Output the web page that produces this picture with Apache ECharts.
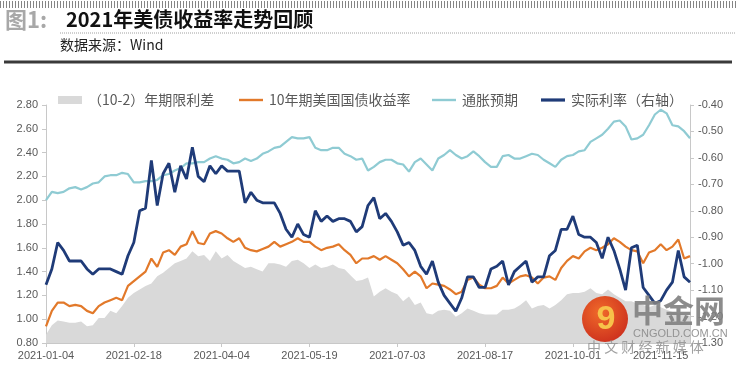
<!DOCTYPE html>
<html>
<head>
<meta charset="utf-8">
<script src="https://cdn.jsdelivr.net/npm/echarts@6/dist/echarts.min.js"></script>
<style>
html, body { margin: 0; padding: 0; background: #fff; }
#wrap { position: relative; width: 738px; height: 367px; }
#main { width: 738px; height: 367px; }
#stripe {
  position: absolute; left: 0; top: 1px; width: 738px; height: 7px; z-index: 5;
  background: repeating-linear-gradient(90deg, #858585 0px, #858585 1.5px, #ffffff 1.5px, #ffffff 3px);
}
</style>
</head>
<body>
<div id="wrap">
  <div id="main"></div>
  <div id="stripe"></div>
</div>
<script>
// dates: one point every 3 calendar days from 2021-01-04
var startDate = '2021-01-04';
var stepDays = 3;
var pointCount = 111;
var tickLabels = ['2021-01-04', '2021-02-18', '2021-04-04', '2021-05-19', '2021-07-03', '2021-08-17', '2021-10-01', '2021-11-15'];

var seriesNames = ['（10-2）年期限利差', '10年期美国国债收益率', '通胀预期', '实际利率（右轴）'];

var spread = [
  0.87, 0.95, 0.99, 0.98, 0.97, 0.97, 0.98, 0.94, 0.95, 1.01, 1.01, 1.07, 1.05, 1.11, 1.18, 1.22, 1.25, 1.28, 1.30, 1.36, 1.39, 1.43, 1.47, 1.49, 1.51, 1.57, 1.53,
  1.54, 1.49, 1.57, 1.51, 1.54, 1.49, 1.46, 1.43, 1.44, 1.42, 1.40, 1.47, 1.47, 1.46, 1.44, 1.49, 1.50, 1.47, 1.43, 1.46, 1.43, 1.44, 1.46, 1.43, 1.42, 1.37, 1.32, 1.33,
  1.35, 1.19, 1.23, 1.26, 1.23, 1.21, 1.15, 1.19, 1.12, 1.14, 1.05, 1.04, 1.07, 1.08, 1.07, 1.02, 1.05, 1.09, 1.07, 1.05, 1.04, 1.04, 1.04, 1.08, 1.08, 1.09, 1.12,
  1.16, 1.09, 1.11, 1.12, 1.09, 1.12, 1.16, 1.21, 1.22, 1.22, 1.23, 1.26, 1.22, 1.21, 1.25, 1.21, 1.18, 1.15, 1.15, 1.13, 1.12, 1.10, 1.12, 1.10, 1.08, 1.06, 1.05, 1.04, 1.03
];
var yield10 = [
  0.94, 1.07, 1.14, 1.14, 1.11, 1.12, 1.11, 1.07, 1.05, 1.11, 1.14, 1.16, 1.18, 1.16, 1.28, 1.32, 1.36, 1.40, 1.51, 1.44, 1.56, 1.58, 1.54, 1.61, 1.63, 1.74, 1.64,
  1.63, 1.72, 1.74, 1.72, 1.68, 1.65, 1.68, 1.60, 1.58, 1.57, 1.59, 1.61, 1.65, 1.61, 1.63, 1.65, 1.68, 1.65, 1.65, 1.61, 1.58, 1.60, 1.61, 1.63, 1.58, 1.54, 1.47, 1.51,
  1.51, 1.53, 1.50, 1.53, 1.50, 1.47, 1.42, 1.36, 1.40, 1.36, 1.26, 1.30, 1.29, 1.28, 1.25, 1.21, 1.23, 1.33, 1.35, 1.29, 1.26, 1.26, 1.28, 1.35, 1.30, 1.33, 1.36,
  1.37, 1.35, 1.30, 1.35, 1.36, 1.33, 1.43, 1.49, 1.53, 1.51, 1.57, 1.60, 1.58, 1.60, 1.63, 1.68, 1.65, 1.61, 1.58, 1.57, 1.47, 1.56, 1.58, 1.63, 1.58, 1.61, 1.67, 1.51, 1.53
];
var inflation = [
  2.00, 2.07, 2.06, 2.07, 2.10, 2.11, 2.09, 2.11, 2.14, 2.15, 2.20, 2.21, 2.21, 2.23, 2.22, 2.15, 2.15, 2.16, 2.16, 2.17, 2.21, 2.22, 2.25, 2.27, 2.31, 2.31, 2.32,
  2.32, 2.35, 2.37, 2.35, 2.34, 2.31, 2.32, 2.35, 2.33, 2.35, 2.39, 2.41, 2.44, 2.45, 2.49, 2.53, 2.52, 2.52, 2.53, 2.44, 2.42, 2.42, 2.44, 2.44, 2.39, 2.37, 2.34, 2.35,
  2.25, 2.28, 2.32, 2.34, 2.34, 2.31, 2.30, 2.24, 2.32, 2.35, 2.30, 2.25, 2.35, 2.38, 2.42, 2.38, 2.35, 2.37, 2.41, 2.37, 2.32, 2.28, 2.28, 2.37, 2.38, 2.35, 2.35,
  2.37, 2.39, 2.38, 2.34, 2.31, 2.28, 2.34, 2.37, 2.38, 2.41, 2.42, 2.49, 2.52, 2.55, 2.60, 2.66, 2.67, 2.62, 2.51, 2.52, 2.55, 2.63, 2.72, 2.76, 2.73, 2.63, 2.62, 2.58, 2.52
];
var realRate = [
  -1.08, -1.02, -0.92, -0.95, -0.99, -0.99, -0.99, -1.02, -1.04, -1.02, -1.02, -1.02, -1.03, -1.04, -0.97, -0.92, -0.80, -0.79, -0.61, -0.78, -0.66, -0.62, -0.73, -0.63, -0.68, -0.56, -0.67,
  -0.69, -0.63, -0.66, -0.63, -0.65, -0.65, -0.65, -0.77, -0.73, -0.76, -0.77, -0.77, -0.77, -0.81, -0.87, -0.90, -0.85, -0.89, -0.90, -0.80, -0.84, -0.82, -0.84, -0.83, -0.83, -0.84, -0.88, -0.86,
  -0.78, -0.75, -0.83, -0.81, -0.84, -0.88, -0.93, -0.92, -0.95, -1.01, -1.04, -0.99, -1.07, -1.12, -1.15, -1.18, -1.13, -1.05, -1.05, -1.09, -1.09, -1.02, -1.01, -0.99, -1.08, -1.03, -1.01,
  -0.99, -1.07, -1.05, -1.05, -0.97, -0.95, -0.87, -0.87, -0.82, -0.89, -0.90, -0.90, -0.92, -0.98, -0.90, -0.95, -1.02, -1.10, -0.94, -0.93, -1.09, -1.12, -1.15, -1.14, -1.10, -1.07, -0.95, -1.05, -1.07
];

var dates = [];
(function () {
  var d0 = new Date(startDate + 'T00:00:00Z');
  for (var i = 0; i < pointCount; i++) {
    var d = new Date(d0.getTime() + i * stepDays * 86400000);
    dates.push(d.toISOString().slice(0, 10));
  }
})();

function isTick(idx, val) {
  return tickLabels.indexOf(val) >= 0;
}

var cjk = '"Noto Sans CJK SC", "Liberation Sans", sans-serif';
var num = '"Liberation Sans", "Noto Sans CJK SC", sans-serif';

var colors = ['#d9d9d9', '#e2792a', '#8fcbd3', '#1f3b78'];

// thin bar inside a 24x10 box, so the legend shows a plain line
var lineIcon = 'path://M0,0 M0,3.8 L24,3.8 L24,6.2 L0,6.2 Z M24,10';
var thickIcon = 'path://M0,0 M0,3.4 L24,3.4 L24,6.6 L0,6.6 Z M24,10';

function legendAt(left, name, icon, color) {
  return {
    top: 88,
    left: left,
    itemWidth: 24,
    itemHeight: 10,
    itemGap: 0,
    textStyle: { color: '#595959', fontSize: 14, fontFamily: cjk, padding: [0, 0, 0, 1] },
    data: [{ name: name, icon: icon, itemStyle: { color: color } }]
  };
}

var chart = echarts.init(document.getElementById('main'));

var option = {
  backgroundColor: '#fff',
  animation: false,
  textStyle: { fontFamily: cjk },
  grid: { left: 46, right: 48, top: 105, bottom: 24, containLabel: false },
  legend: [
    legendAt(53, seriesNames[0], 'path://M0,0 M0,1 L24,1 L24,9 L0,9 Z M24,10', colors[0]),
    legendAt(234, seriesNames[1], lineIcon, colors[1]),
    legendAt(427, seriesNames[2], lineIcon, colors[2]),
    legendAt(536, seriesNames[3], thickIcon, colors[3])
  ],
  xAxis: {
    type: 'category',
    data: dates,
    boundaryGap: false,
    axisLine: { lineStyle: { color: '#c8c8c8', width: 1 } },
    axisTick: { show: true, interval: isTick, length: 4, lineStyle: { color: '#c8c8c8' } },
    axisLabel: { interval: isTick, color: '#595959', fontSize: 11, fontFamily: num, margin: 7 },
    splitLine: { show: false }
  },
  yAxis: [
    {
      type: 'value',
      min: 0.8,
      max: 2.8,
      interval: 0.2,
      axisLine: { show: true, lineStyle: { color: '#c8c8c8' } },
      axisTick: { show: true, length: 4, lineStyle: { color: '#c8c8c8' } },
      axisLabel: { color: '#595959', fontSize: 11, fontFamily: num, margin: 8, formatter: function (v) { return v.toFixed(2); } },
      splitLine: { show: false }
    },
    {
      type: 'value',
      min: -1.3,
      max: -0.4,
      interval: 0.1,
      axisLine: { show: true, lineStyle: { color: '#c8c8c8' } },
      axisTick: { show: true, length: 4, lineStyle: { color: '#c8c8c8' } },
      axisLabel: { color: '#595959', fontSize: 11, fontFamily: num, margin: 8, formatter: function (v) { return v.toFixed(2); } },
      splitLine: { show: false }
    }
  ],
  series: [
    {
      name: seriesNames[0],
      type: 'line',
      data: spread,
      yAxisIndex: 0,
      symbol: 'none',
      lineStyle: { width: 0, color: colors[0] },
      itemStyle: { color: colors[0] },
      areaStyle: { color: colors[0], opacity: 1, origin: 'start' },
      z: 1
    },
    {
      name: seriesNames[1],
      type: 'line',
      data: yield10,
      yAxisIndex: 0,
      symbol: 'none',
      lineStyle: { width: 2.2, color: colors[1] },
      itemStyle: { color: colors[1] },
      z: 2
    },
    {
      name: seriesNames[2],
      type: 'line',
      data: inflation,
      yAxisIndex: 0,
      symbol: 'none',
      lineStyle: { width: 2.2, color: colors[2] },
      itemStyle: { color: colors[2] },
      z: 3
    },
    {
      name: seriesNames[3],
      type: 'line',
      data: realRate,
      yAxisIndex: 1,
      symbol: 'none',
      lineStyle: { width: 2.8, color: colors[3] },
      itemStyle: { color: colors[3] },
      z: 4
    }
  ],
  graphic: [
    // header
    { type: 'text', z: 50, x: 5, y: 9, style: { text: '图1:', fill: '#a8a8a8', font: 'bold 22px ' + cjk } },
    { type: 'text', z: 50, x: 66, y: 9, style: { text: '2021年美债收益率走势回顾', fill: '#111', font: 'bold 20px ' + cjk } },
    { type: 'text', z: 50, x: 60, y: 38, style: { text: '数据来源：Wind', fill: '#222', font: '14px ' + cjk } },
    { type: 'line', z: 50, shape: { x1: 4, y1: 62, x2: 732, y2: 62 }, style: { stroke: '#3a3a3a', lineWidth: 3 } },
    { type: 'line', z: 50, shape: { x1: 60, y1: 33, x2: 735, y2: 33 }, style: { stroke: '#a0a0a0', lineWidth: 1, lineDash: [1, 1] } },
    // watermark
    {
      type: 'circle', z: 100, shape: { cx: 605, cy: 319, r: 23 },
      style: { fill: new echarts.graphic.RadialGradient(0.4, 0.35, 0.8, [{ offset: 0, color: '#f06a2a' }, { offset: 1, color: '#c8281c' }]) }
    },
    { type: 'text', z: 101, x: 606, y: 320, style: { text: '9', fill: '#f7c24a', font: 'bold 34px ' + num, align: 'center', verticalAlign: 'middle' } },
    { type: 'text', z: 101, x: 632, y: 295, style: { text: '中金网', fill: 'rgba(128,128,128,0.9)', font: 'bold 31px ' + cjk } },
    { type: 'text', z: 101, x: 633, y: 328, style: { text: 'CNGOLD.COM.CN', fill: 'rgba(140,140,140,0.9)', font: '11px ' + num } },
    { type: 'text', z: 101, x: 587, y: 340, style: { text: '中 文 财 经 新 媒 体', fill: 'rgba(150,150,150,0.9)', font: '14px ' + cjk } }
  ]
};

chart.setOption(option);
</script>
</body>
</html>
